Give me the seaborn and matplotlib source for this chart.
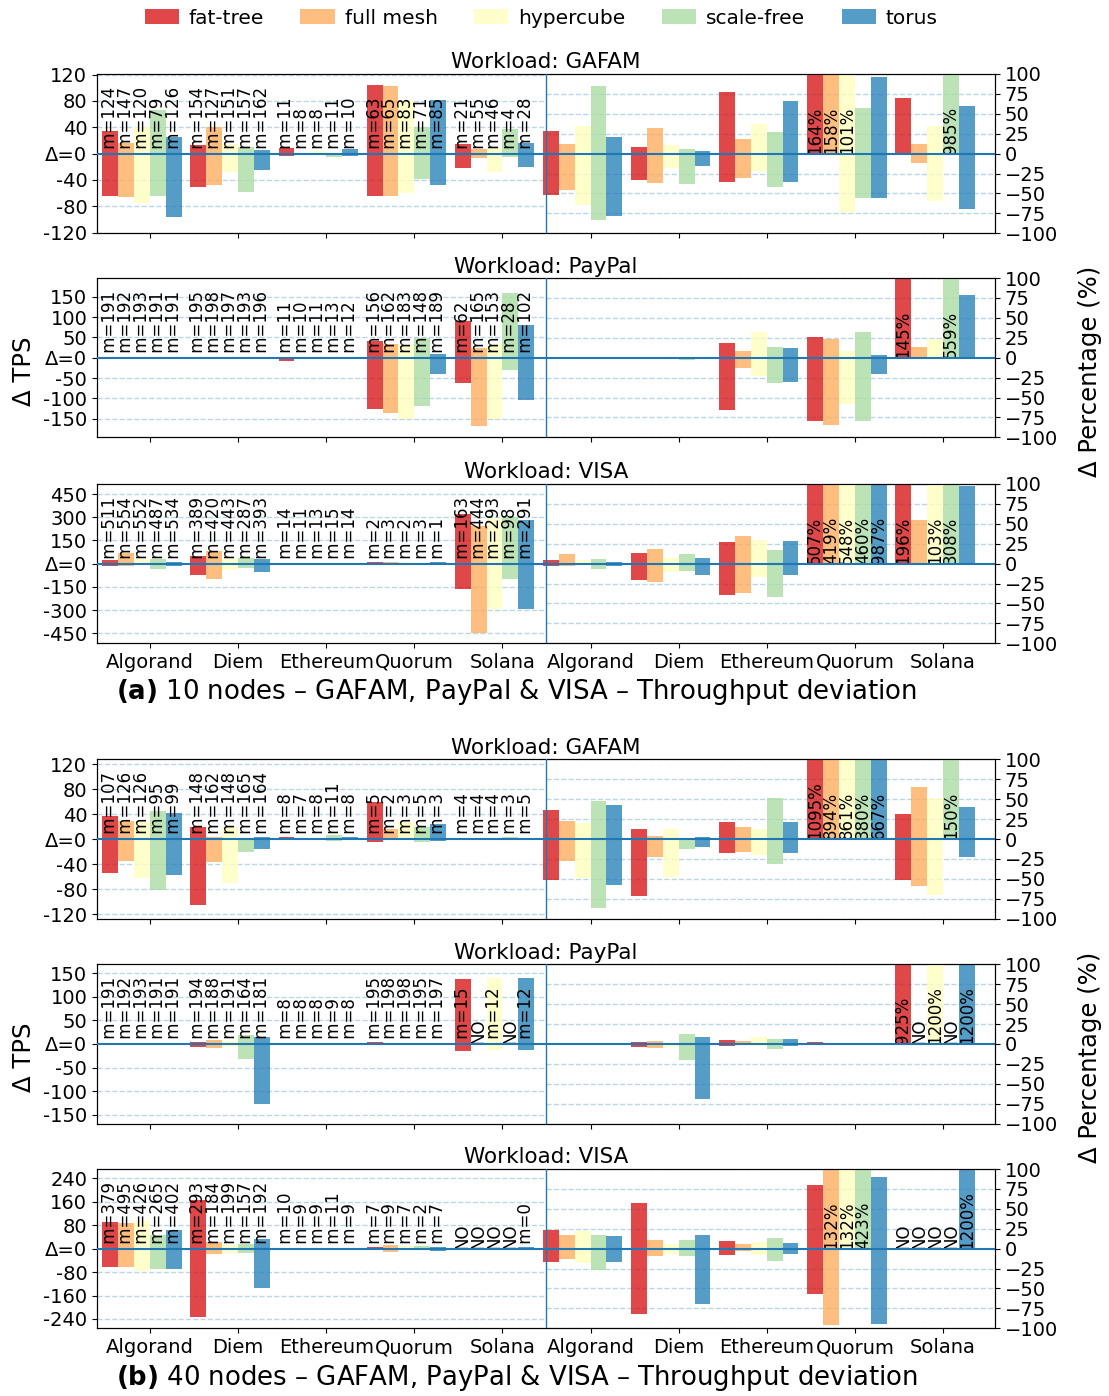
import numpy as np
import pandas as pd
import matplotlib
matplotlib.use("Agg")
import matplotlib.pyplot as plt
import seaborn as sns
from matplotlib.patches import Patch

# ---------------------------------------------------------------------------
# Data (rows = chains, cols = topologies); NaN / None = no data ("NO")
# ---------------------------------------------------------------------------
CHAINS = ["Algorand", "Diem", "Ethereum", "Quorum", "Solana"]
TOPOLOGIES = ["fat-tree", "full mesh", "hypercube", "scale-free", "torus"]
COLORS = ["#d7191c", "#fdae61", "#ffffbf", "#abdda4", "#2b83ba"]
NA = np.nan

# 10 nodes - GAFAM
N10_GAFAM_TPS_HI = [[34, 16, 41, 67, 26], [13, 40, 15, 10, 5], [8, 1, 3.5, 0, 6.5],
                    [104, 102, 82, 40, 81], [14, 6.5, 8, 38, 16]]
N10_GAFAM_TPS_LO = [[-65, -66, -75, -65, -97], [-51, -47, -28, -59, -25], [-4, -1, -0.5, -5.5, -4],
                    [-65, -65, -60, -39, -47], [-22, -7, -28, -5.5, -21]]
N10_GAFAM_M = [[124, 147, 120, 79, 126], [154, 127, 151, 157, 162], [11, 8, 8, 11, 10],
               [63, 65, 83, 71, 85], [21, 55, 46, 4, 28]]
N10_GAFAM_PCT_HI = [[28, 12, 34.5, 85, 20.5], [8, 32, 10.5, 5.5, 3], [77, 18, 37, 27, 66],
                    [164, 158, 101, 57, 96], [70, 12, 34.5, 985, 60]]
N10_GAFAM_PCT_LO = [[-52.5, -46, -64, -83, -78], [-33.5, -37, -18.5, -38.5, -16], [-35, -30, -22, -42, -35],
                    [0, 0, -73.5, -56, -56], [0, -12, -60, 0, -70]]

# 10 nodes - PayPal
N10_PAYPAL_TPS_HI = [[0.5, 0.5, 0.5, 0.5, 0.5], [0.5, 0.5, 0.5, 0.5, 0.5], [0.5, 0.5, 0.5, 0.5, 0.5],
                     [40, 35, 33, 48, 8], [90, 25, 33, 159, 80]]
N10_PAYPAL_TPS_LO = [[-1, -0.5, -0.5, -0.5, -1], [-3, -0.5, -0.5, -4, -1], [-8, -0.5, -0.5, -4, -2],
                     [-125, -137, -150, -120, -39], [-63, -167, -152, -29, -103]]
N10_PAYPAL_M = [[191, 192, 193, 191, 191], [195, 198, 197, 193, 196], [11, 10, 11, 13, 12],
                [156, 162, 183, 148, 189], [62, 165, 153, 28, 102]]
N10_PAYPAL_PCT_HI = [[0.3, 0.3, 0.3, 0.3, 0.3], [0.3, 0.3, 0.3, 0.3, 0.3], [19, 8, 32, 14, 12],
                     [25.5, 23, 8, 32, 4], [145, 14, 24, 559, 78.5]]
N10_PAYPAL_PCT_LO = [[-0.5, -0.5, -0.3, -0.3, -0.3], [-1.5, -0.3, -0.3, -3, -0.3], [-66, -13.5, -23.5, -32, -31],
                     [-80, -85, -57.5, -80, -20], [0, 0, 0, 0, 0]]

# 10 nodes - VISA
N10_VISA_TPS_HI = [[22, 67, 28, 28, 9], [47, 80, 32, 35, 28], [2, 1, 1, 1, 1],
                   [9, 8, 12, 6, 8], [320, 242, 296, 300, 281]]
N10_VISA_TPS_LO = [[-17, -17, -11, -37, -17], [-76, -101, -43, -30, -56], [-3, -1, -1, -1, -2],
                   [0, 0, 0, 0, 0], [-166, -451, -296, -101, -296]]
N10_VISA_M = [[511, 554, 552, 487, 534], [389, 420, 443, 287, 393], [14, 11, 13, 15, 14],
              [2, 3, 2, 3, 1], [163, 444, 293, 98, 291]]
N10_VISA_PCT_HI = [[4, 12, 4, 5.5, 2], [13, 19, 7, 12, 7], [27, 34.5, 29.5, 17, 28],
                   [507, 419, 548, 460, 987], [196, 54.5, 103, 308, 97.5]]
N10_VISA_PCT_LO = [[-3.5, -3.5, -2, -7, -3.5], [-20, -23.5, -11, -9.5, -14.5], [-40, -37, -17, -42, -14.5],
                   [0, 0, 0, 0, 0], [0, 0, 0, 0, 0]]

# 40 nodes - GAFAM
N40_GAFAM_TPS_HI = [[37.7, 29.7, 27, 45.7, 42.5], [20, 4, 20, 0, 4], [2.6, 0.5, 0.5, 6, 2.6],
                    [60, 15.4, 28, 20, 23.4], [1, 2, 1, 3, 2]]
N40_GAFAM_TPS_LO = [[-54, -35.6, -62, -81, -57], [-105, -36.6, -70, -21, -16], [0, 0, 0, -3, -1.5],
                    [-5, 0, 0, -5, -3], [-1, 0, 0, -2, 0]]
N40_GAFAM_M = [[107, 126, 126, 95, 99], [148, 162, 148, 165, 164], [8, 7, 8, 11, 8],
               [5, 2, 3, 5, 3], [4, 4, 4, 3, 5]]
N40_GAFAM_PCT_HI = [[36, 23, 19.6, 48, 43], [13, 3.3, 13, 0, 2], [22, 14.6, 13, 51, 22],
                    [1095, 894, 861, 380, 667], [32, 66, 51, 150, 40]]
N40_GAFAM_PCT_LO = [[-51, -27.5, -49, -86, -57.5], [-71, -22.5, -47.5, -12.5, -10], [-17.5, -16, -20, -31, -17.5],
                    [0, 0, 0, 0, 0], [-51, -59, -70, 0, -22.5]]

# 40 nodes - PayPal
N40_PAYPAL_TPS_HI = [[0.3, 0.3, 0.3, 0.3, 0.3], [3.5, 7.7, 5.6, 18, 14], [0.3, 0.3, 0.3, 0.3, 0.3],
                     [3.5, 0.5, 0.5, 0.5, 0.3], [137.6, NA, 140, NA, 140]]
N40_PAYPAL_TPS_LO = [[-1, -0.5, -0.3, -0.3, -0.3], [-6.3, -8.4, -6, -31.6, -126], [-0.3, -0.3, -0.3, -0.3, -0.3],
                     [0, -0.3, -0.3, -0.3, -1], [-14.7, NA, -12.6, NA, -12.6]]
N40_PAYPAL_M = [[191, 192, 193, 191, 191], [194, 188, 191, 164, 181], [8, 8, 8, 9, 8],
                [195, 198, 198, 195, 197], [15, None, 12, None, 12]]
N40_PAYPAL_PCT_HI = [[0.3, 0.3, 0.3, 0.3, 0.3], [2, 3.3, 1.2, 12, 8.3], [4.6, 3.3, 8.3, 5.8, 5.8],
                     [2, 0.3, 0.3, 0.3, 0.3], [925, NA, 1200, NA, 1200]]
N40_PAYPAL_PCT_LO = [[-0.3, -0.3, -0.3, -0.3, -0.3], [-3.7, -5, -3.7, -20, -69], [-2.5, 0, -2.5, -6, -2.5],
                     [0, -0.3, -0.3, -0.3, -0.5], [0, NA, 0, NA, 0]]

# 40 nodes - VISA
N40_VISA_TPS_HI = [[90, 86.5, 93, 45.5, 62.6], [165, 21.6, 11.4, 14.8, 32], [0.5, 0.5, 0.5, 0.5, 0.5],
                   [4.5, 11.4, 8, 8, 4.5], [NA, NA, NA, NA, 4.5]]
N40_VISA_TPS_LO = [[-64, -64, -76, -69, -69], [-233, -19.3, -16, -16, -134], [-0.5, -0.5, -0.5, -0.5, -0.5],
                   [-2, -12.5, -2, -2, -9], [NA, NA, NA, NA, 0]]
N40_VISA_M = [[379, 495, 426, 265, 402], [293, 184, 199, 157, 192], [10, 9, 9, 11, 9],
              [7, 9, 7, 2, 7], [None, None, None, None, 0]]
N40_VISA_PCT_HI = [[23, 17, 22, 17, 15.5], [57, 10.5, 5.5, 10.5, 17], [9, 5.5, 8, 14, 6.7],
                   [80, 132, 132, 423, 90], [NA, NA, NA, NA, 1200]]
N40_VISA_PCT_LO = [[-17, -13.5, -18.5, -27, -17], [-81.5, -9.7, -7, -9.7, -70], [-8.4, -3.4, -8.4, -16, -7],
                   [-57.5, -96, 0, 0, -94], [NA, NA, NA, NA, 0]]

WORKLOADS = ["GAFAM", "PayPal", "VISA", "GAFAM", "PayPal", "VISA"]
TPS_LIMITS = [121, 196, 515, 127.5, 168.5, 272]
TPS_TICKS = [[-120, -80, -40, 0, 40, 80, 120],
             [-150, -100, -50, 0, 50, 100, 150],
             [-450, -300, -150, 0, 150, 300, 450],
             [-120, -80, -40, 0, 40, 80, 120],
             [-150, -100, -50, 0, 50, 100, 150],
             [-240, -160, -80, 0, 80, 160, 240]]
PCT_TICKS = [-100, -75, -50, -25, 0, 25, 50, 75, 100]

PANELS = [
    (N10_GAFAM_TPS_HI, N10_GAFAM_TPS_LO, N10_GAFAM_M, N10_GAFAM_PCT_HI, N10_GAFAM_PCT_LO),
    (N10_PAYPAL_TPS_HI, N10_PAYPAL_TPS_LO, N10_PAYPAL_M, N10_PAYPAL_PCT_HI, N10_PAYPAL_PCT_LO),
    (N10_VISA_TPS_HI, N10_VISA_TPS_LO, N10_VISA_M, N10_VISA_PCT_HI, N10_VISA_PCT_LO),
    (N40_GAFAM_TPS_HI, N40_GAFAM_TPS_LO, N40_GAFAM_M, N40_GAFAM_PCT_HI, N40_GAFAM_PCT_LO),
    (N40_PAYPAL_TPS_HI, N40_PAYPAL_TPS_LO, N40_PAYPAL_M, N40_PAYPAL_PCT_HI, N40_PAYPAL_PCT_LO),
    (N40_VISA_TPS_HI, N40_VISA_TPS_LO, N40_VISA_M, N40_VISA_PCT_HI, N40_VISA_PCT_LO),
]

# ---------------------------------------------------------------------------
# Layout
# ---------------------------------------------------------------------------
AX_LEFT, AX_WIDTH, AX_HEIGHT = 0.0875, 0.8097, 0.1141
AX_BOTTOMS = [0.8329, 0.6867, 0.5392, 0.3419, 0.1951, 0.0485]
BAR_W = 0.18
XMIN, XMAX, XSEP = -0.51, 9.68, 4.59


def to_long(hi, lo, offset):
    rows = []
    for i in range(len(CHAINS)):
        for j, topo in enumerate(TOPOLOGIES):
            rows.append({"pos": i + offset, "topology": topo,
                         "hi": hi[i][j], "lo": lo[i][j]})
    return pd.DataFrame(rows)


def draw_bars(df, ax):
    # each bar spans [lo, hi] around zero: draw the upper and lower part
    for col in ("hi", "lo"):
        sns.barplot(data=df, x="pos", y=col, hue="topology", hue_order=TOPOLOGIES,
                    palette=COLORS, native_scale=True, width=0.9, saturation=1,
                    alpha=0.8, linewidth=0, errorbar=None, legend=False, ax=ax)


fig = plt.figure(figsize=(11.09, 13.96), dpi=100)

for k, (tps_hi, tps_lo, m_vals, pct_hi, pct_lo) in enumerate(PANELS):
    ax = fig.add_axes([AX_LEFT, AX_BOTTOMS[k], AX_WIDTH, AX_HEIGHT])
    ax2 = ax.twinx()

    draw_bars(to_long(tps_hi, tps_lo, 0), ax)
    draw_bars(to_long(pct_hi, pct_lo, 5), ax2)

    lim = TPS_LIMITS[k]
    ax.set_xlim(XMIN, XMAX)
    ax.set_ylim(-lim, lim)
    ax2.set_ylim(-100, 100)

    ax.set_yticks(TPS_TICKS[k])
    ax.set_yticklabels(["Δ=0" if t == 0 else str(t) for t in TPS_TICKS[k]])
    ax2.set_yticks(PCT_TICKS)
    ax.tick_params(axis="y", labelsize=14)
    ax2.tick_params(axis="y", labelsize=14)

    ax.set_xticks(np.arange(10) + 0.09)
    if k in (2, 5):
        ax.set_xticklabels(CHAINS * 2, fontsize=14)
    else:
        ax.set_xticklabels([])
    for a in (ax, ax2):
        a.set_xlabel("")
        a.set_ylabel("")

    # dashed guide lines, separate for each half
    ax.hlines([t for t in TPS_TICKS[k] if t != 0], XMIN, XSEP, colors="C0",
              linestyles="--", linewidth=1, alpha=0.3, zorder=0)
    ax2.hlines([t for t in PCT_TICKS if t != 0], XSEP, XMAX, colors="C0",
               linestyles="--", linewidth=1, alpha=0.3, zorder=0)
    ax2.axhline(0, color="C0", linewidth=1.5, zorder=5)
    ax2.axvline(XSEP, color="C0", linewidth=1, zorder=5)

    # annotations
    for i in range(len(CHAINS)):
        for j in range(len(TOPOLOGIES)):
            xb = i + (j - 2) * BAR_W
            m = m_vals[i][j]
            ax.text(xb, 0, "NO" if m is None else f" m={m}", rotation=90,
                    ha="center", va="bottom", fontsize=12)
            v = pct_hi[i][j]
            if np.isnan(v):
                ax2.text(xb + 5, 0, "NO", rotation=90, ha="center", va="bottom", fontsize=12)
            elif v > 100:
                ax2.text(xb + 5, 0, f"{v:.0f}%", rotation=90, ha="center", va="bottom", fontsize=12)

    ax.set_title(f"Workload: {WORKLOADS[k]}", fontsize=15.5, pad=4)

# axis labels and captions
for yc in (0.7342, 0.2428):
    fig.text(0.0216, yc, "Δ TPS", rotation=90, ha="center", va="center", fontsize=17.5)
    fig.text(0.983, yc, "Δ Percentage (%)", rotation=90, ha="center", va="center", fontsize=17.5)

fig.text(0.466, 0.5043, r"$\bf{(a)}$ 10 nodes – GAFAM, PayPal & VISA – Throughput deviation",
         ha="center", va="center", fontsize=18.7)
fig.text(0.466, 0.0129, r"$\bf{(b)}$ 40 nodes – GAFAM, PayPal & VISA – Throughput deviation",
         ha="center", va="center", fontsize=18.7)

handles = [Patch(facecolor=c, alpha=0.8, label=t) for c, t in zip(COLORS, TOPOLOGIES)]
fig.legend(handles=handles, loc="center", bbox_to_anchor=(0.488, 1 - 18 / 1396), ncol=5,
           frameon=False, fontsize=14.5, handlelength=1.7, handletextpad=0.5,
           columnspacing=1.8)

fig.savefig("out.png", dpi=100)
